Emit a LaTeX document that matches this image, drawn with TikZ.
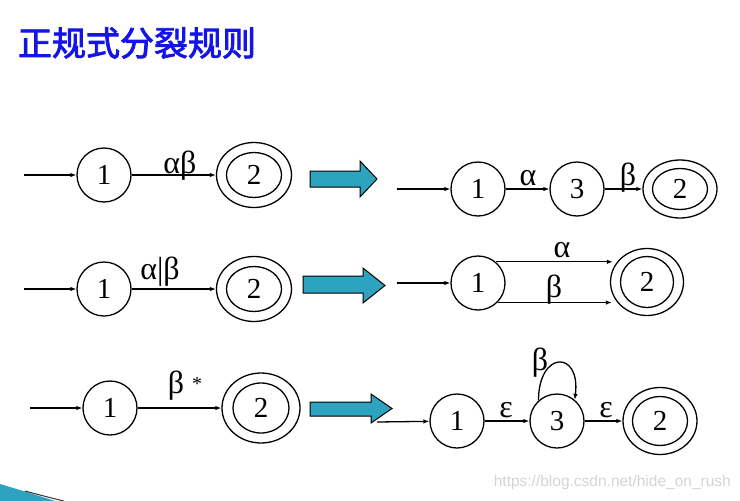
\documentclass[tikz,border=0pt]{standalone}
\usepackage{fontspec}
\setmainfont{Liberation Serif}
\newfontfamily\cjk[FakeBold=2.5,BoldFont=Noto Sans CJK SC]{Noto Sans CJK SC}
\newfontfamily\wmfont{Liberation Sans}
\usetikzlibrary{shapes.geometric,arrows.meta}
\definecolor{titleblue}{RGB}{20,20,230}
\definecolor{arrowteal}{RGB}{46,163,191}
\begin{document}
\begin{tikzpicture}[x=1pt,y=-1pt,
  st/.style={circle,draw,line width=1.3pt,minimum size=54pt,inner sep=0pt,font=\fontsize{29}{29}\selectfont},
  acc/.style={ellipse,draw,line width=1.3pt,inner sep=0pt,font=\fontsize{29}{29}\selectfont},
  inner/.style={line width=1.3pt},
  tr/.style={line width=1.3pt,-{Latex[length=6pt,width=4.5pt]}},
  lab/.style={font=\fontsize{32}{32}\selectfont,inner sep=0pt,anchor=base},
  big/.style={fill=arrowteal,draw=black,line width=1pt,line join=miter}]
\useasboundingbox (0,0) rectangle (740,501);

% title
\node[font=\cjk\bfseries\fontsize{34}{34}\selectfont,text=titleblue] (title) at (137,43) {正规式分裂规则};

% ---------- row 1 left
\coordinate (l1s) at (24,175);
\node[st] (l11) at (104,175) {1};
\node[acc,minimum width=75pt,minimum height=65pt] (l12) at (254,175) {2};
\draw[inner] (l12.center) ellipse [x radius=27.5,y radius=22.5];
\draw[tr] (l1s) -- (l11);
\draw[tr] (l11) -- (l12);
\node[lab] (l1lab) at (180,173) {αβ};

% ---------- row 2 left
\coordinate (l2s) at (24,289);
\node[st] (l21) at (104,289) {1};
\node[acc,minimum width=75pt,minimum height=65pt] (l22) at (254,289) {2};
\draw[inner] (l22.center) ellipse [x radius=27.5,y radius=22.5];
\draw[tr] (l2s) -- (l21);
\draw[tr] (l21) -- (l22);
\node[lab] (l2lab) at (160,279) {α|β};

% ---------- row 3 left
\coordinate (l3s) at (30,408);
\node[st] (l31) at (110,408) {1};
\node[acc,minimum width=78pt,minimum height=70pt] (l32) at (261,408) {2};
\draw[inner] (l32.center) ellipse [x radius=28,y radius=25];
\draw[tr] (l3s) -- (l31);
\draw[tr] (l31) -- (l32);
\node[lab] (l3lab) at (176,393) {β};
\node[font=\fontsize{20}{20}\selectfont,inner sep=0pt] (l3star) at (197,384) {*};

% ---------- big arrows
\draw[big] (310,171) -- (360,171) -- (360,161) -- (377,179) -- (360,197) -- (360,187) -- (310,187) -- cycle;
\draw[big] (303,276) -- (363,276) -- (363,268) -- (385,285.5) -- (363,303) -- (363,293) -- (303,293) -- cycle;
\draw[big] (310,402) -- (371,402) -- (371,394) -- (392,408.5) -- (371,423) -- (371,416) -- (310,416) -- cycle;

% ---------- row 1 right
\coordinate (r1s) at (397,189);
\node[st] (r11) at (478,189) {1};
\node[st] (r13) at (577,189) {3};
\node[acc,minimum width=74pt,minimum height=58pt] (r12) at (680,189) {2};
\draw[inner] (r12.center) ellipse [x radius=27.5,y radius=20.5];
\draw[tr] (r1s) -- (r11);
\draw[tr] (r11) -- (r13);
\draw[tr] (r13) -- (r12);
\node[lab] (r1a) at (528,185) {α};
\node[lab] (r1b) at (628,185) {β};

% ---------- row 2 right
\coordinate (r2s) at (397,283);
\node[st] (r21) at (478,283) {1};
\node[acc,minimum width=73pt,minimum height=67pt] (r22) at (647,282) {2};
\draw[inner] (r22.center) ellipse [x radius=26.5,y radius=25.5];
\draw[tr] (r2s) -- (r21);
\draw[tr] (r21.50) -- ([xshift=3pt]r21.50 -| r22.west);
\draw[tr] (r21.-45) -- ([xshift=2pt]r21.-45 -| r22.west);
\node[lab] (r2a) at (562,257) {α};
\node[lab] (r2b) at (554,297) {β};

% ---------- row 3 right
\coordinate (r3s) at (377,422);
\node[st] (r31) at (457,421) {1};
\node[st] (r33) at (557,421) {3};
\node[acc,minimum width=74pt,minimum height=67pt] (r32) at (660,421) {2};
\draw[inner] (r32.center) ellipse [x radius=27.5,y radius=24.5];
\draw[tr] (r3s) -- (r31);
\draw[tr] (r31) -- (r33);
\draw[tr] (r33) -- (r32);
\draw[tr] (r33.132) .. controls +(0,-50) and +(6,-50) .. (r33.50);
\node[lab] (r3a) at (506,417) {ε};
\node[lab] (r3b) at (606,417) {ε};
\node[lab] (r3l) at (540,370) {β};

% watermark
\node[font=\wmfont\fontsize{15.5}{15.5}\selectfont,text=black!17,anchor=east,inner sep=0pt] (wm) at (731,482) {https://blog.csdn.net/hide\_on\_rush};

% corner swoosh
\fill[arrowteal] (0,484) .. controls (20,490) and (40,496) .. (55,501) -- (0,501) -- cycle;
\draw[line width=1pt,black!80] (25,491) .. controls (40,495) and (55,499) .. (64,501);
\end{tikzpicture}
\end{document}
